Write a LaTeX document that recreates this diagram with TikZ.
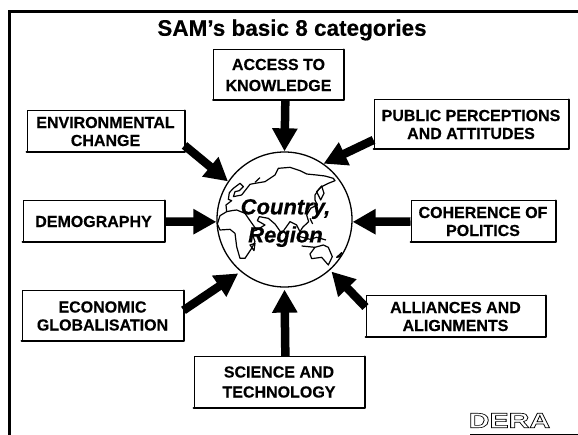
\documentclass[tikz,border=0pt]{standalone}
\usepackage{fontspec}
\usepackage{graphicx}
\setmainfont[BoldFeatures={FakeBold=0.35},BoldItalicFeatures={FakeBold=0.6}]{Liberation Sans}
\newfontfamily\plainbold[BoldFont={* Bold}]{Liberation Sans}
\usetikzlibrary{arrows.meta}
\tikzset{
  catbox/.style={draw=black,line width=1pt,fill=white,rectangle,inner sep=0pt,align=center,
    font=\fontsize{16}{18}\selectfont\bfseries,
    append after command={\pgfextra{\draw[line width=2pt,line cap=round,line join=round]
      (\tikzlastnode.north east)--(\tikzlastnode.south east)--(\tikzlastnode.south west);}}},
  bigarrow/.style={line width=8.5pt,-{Triangle[length=23pt,width=24pt]}},
  coast/.style={line width=1.2pt,line join=round}
}
\begin{document}
\begin{tikzpicture}[x=1pt,y=-1pt]
\useasboundingbox (0,0) rectangle (578,435);
\fill[white] (0,0) rectangle (578,435);
\draw[line width=3pt] (9,435) -- (9,11.5) -- (578,11.5);
\node[font=\fontsize{22.5}{26}\selectfont\bfseries] (title) at (292,30) {SAM’s basic 8 categories};
\node[catbox,minimum width=130pt,minimum height=50pt] (access) at (278.5,75) {ACCESS TO\\[3pt]KNOWLEDGE};
\node[catbox,minimum width=157pt,minimum height=41pt] (env) at (105.5,131.5) {ENVIRONMENTAL\\CHANGE};
\node[catbox,minimum width=141pt,minimum height=41pt] (demo) at (93.5,221.5) {DEMOGRAPHY};
\node[catbox,minimum width=194pt,minimum height=49pt] (public) at (471,124.5) {PUBLIC PERCEPTIONS\\AND ATTITUDES};
\node[catbox,minimum width=144pt,minimum height=41pt] (coherence) at (483,221.5) {COHERENCE OF\\POLITICS};
\node[catbox,minimum width=161pt,minimum height=50pt] (econ) at (102.5,316) {ECONOMIC\\GLOBALISATION};
\node[catbox,minimum width=170pt,minimum height=50pt] (science) at (279,382) {SCIENCE AND\\[2pt]TECHNOLOGY};
\node[catbox,minimum width=179pt,minimum height=41pt] (alliances) at (455.5,316.5) {ALLIANCES AND\\ALIGNMENTS};
\node[circle,draw=black,line width=1.3pt,minimum size=135pt,inner sep=0pt] (globe) at (284.5,219.5) {};
\draw[bigarrow] (access.-75.4) -- (globe.90);
\draw[bigarrow] (env.-10.5) -- (globe.146);
\draw[bigarrow] (demo.east) -- (globe.182);
\draw[bigarrow] (public.189.1) -- (globe.55);
\draw[bigarrow] (coherence.west) -- (globe.-2);
\draw[bigarrow,shorten >=3pt] (econ.4.2) -- (globe.230);
\draw[bigarrow,shorten >=2pt] (science.76.5) -- (globe.-90);
\draw[bigarrow,shorten >=2pt] (alliances.174) -- (globe.-48);
% map, in the 3x coordinates of the crop
\begin{scope}[shift={(200,150)},x=0.3333pt,y=-0.3333pt,coast]
\draw (52,222) -- (60,197) -- (80,185) -- (78,165) -- (95,152) -- (85,148) -- (88,128) -- (100,115) -- (120,100) -- (130,110) -- (118,122) -- (105,125) -- (100,140) -- (125,135) -- (150,103) -- (165,100) -- (195,95) -- (225,75) -- (235,55) -- (270,52) -- (300,62) -- (320,72) -- (350,75) -- (375,78) -- (400,85) -- (405,92) -- (385,100) -- (365,110) -- (355,120) -- (345,135) -- (345,150) -- (352,165) -- (332,175) -- (320,195) -- (326,215) -- (308,232) -- (300,245) -- (290,225) -- (270,215) -- (258,232) -- (245,250) -- (225,222) -- (205,205) -- (178,200) -- (172,212) -- (195,225) -- (170,240) -- (150,212) -- (135,190) -- (110,180) -- (95,182) -- (80,185);
\draw (52,222) -- (60,240) -- (90,238) -- (105,250) -- (110,290) -- (120,325) -- (135,325) -- (155,295) -- (165,275) -- (155,245) -- (170,240);
\draw (165,97) -- (180,83);
\draw (365,108) -- (372,130) -- (362,150) -- (350,125) -- cycle;
\draw (150,285) -- (165,280) -- (162,302) -- cycle;
\draw (330,312) -- (345,292) -- (370,285) -- (385,292) -- (397,320) -- (385,345) -- (365,322) -- (335,326) -- cycle;
\draw (410,322) -- (425,308) -- (420,320) -- cycle;
\draw (300,260) -- (330,268) -- (350,262) -- (378,270);
\draw (305,288) -- (345,292);
\draw (330,205) -- (338,222);
\end{scope}
\node[font=\fontsize{22}{28}\selectfont\bfseries\itshape,align=center] (label) at (285.5,223) {Country,\\Region};
\node[font=\fontsize{21}{21}\selectfont\plainbold\bfseries] (dera) at (509.5,420.5) {\special{pdf:code 1 Tr 0.6 w}\scalebox{1.37}[1]{DERA}\special{pdf:code 0 Tr}};
\coordinate (ruleleft) at (470,434);
\coordinate (ruleright) at (578,434);
\draw[line width=1pt] (ruleleft) -- (ruleright);
\end{tikzpicture}
\end{document}
